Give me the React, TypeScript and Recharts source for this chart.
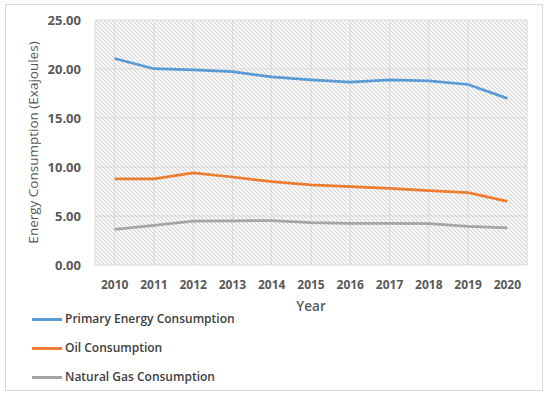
import { LineChart, Line, XAxis, YAxis, CartesianGrid, Legend } from "recharts";

const years = [2010, 2011, 2012, 2013, 2014, 2015, 2016, 2017, 2018, 2019, 2020];
const primaryEnergy = [21.07, 20.03, 19.9, 19.72, 19.2, 18.9, 18.65, 18.88, 18.8, 18.42, 17.0];
const oilConsumption = [8.78, 8.78, 9.39, 8.98, 8.5, 8.18, 7.99, 7.83, 7.58, 7.38, 6.5];
const gasConsumption = [3.64, 4.05, 4.47, 4.5, 4.53, 4.32, 4.25, 4.25, 4.22, 3.95, 3.78];
const yTicks = [0, 5, 10, 15, 20, 25];
const seriesOrder = ["primary", "oil", "gas"];

// grid lines sit on every category and halfway between them
const gridTicks = years.flatMap((y) => [y - 0.5, y]).concat(years[years.length - 1] + 0.5);

const data = years.map((year, i) => ({
  year,
  primary: primaryEnergy[i],
  oil: oilConsumption[i],
  gas: gasConsumption[i],
}));

const font = "'Open Sans', sans-serif";

const LegendList = (props: any) => {
  const items = [...(props.payload || [])].sort(
    (a: any, b: any) => seriesOrder.indexOf(a.dataKey) - seriesOrder.indexOf(b.dataKey)
  );
  return (
    <div style={{ height: 80, paddingLeft: 32, fontFamily: font }}>
      {items.map((entry: any, i: number) => (
        <div
          key={entry.value}
          style={{
            display: "flex",
            alignItems: "center",
            height: 18,
            marginTop: i === 0 ? 0 : 11,
          }}
        >
          <span style={{ display: "inline-block", width: 30, height: 3, background: entry.color }} />
          <span style={{ marginLeft: 3, fontSize: 12, fontWeight: 600, color: "#404040", lineHeight: "18px" }}>
            {entry.value}
          </span>
        </div>
      ))}
    </div>
  );
};

export default function App() {
  return (
    <div style={{ position: "absolute", left: 0, top: 0, width: 550, height: 396, background: "#fff" }}>
      <div
        style={{
          position: "absolute",
          left: 5,
          top: 4,
          width: 536,
          height: 385,
          border: "1.5px solid #d9d9d9",
        }}
      />
      <LineChart
        width={550}
        height={396}
        data={data}
        margin={{ top: 20, right: 23, bottom: 6, left: 0 }}
        style={{ position: "absolute", left: 0, top: 0 }}
      >
        <defs>
          <pattern id="hatch" patternUnits="userSpaceOnUse" width={4} height={4}>
            <rect width={4} height={4} fill="#ffffff" />
            <path d="M-1,-1 L5,5 M-1,3 L1,5 M3,-1 L5,1" stroke="#d4d4d4" strokeWidth={1.2} />
          </pattern>
        </defs>
        <CartesianGrid xAxisId="grid" stroke="#dadada" fill="url(#hatch)" fillOpacity={1} />
        <XAxis
          dataKey="year"
          type="number"
          domain={[2009.5, 2020.5]}
          ticks={years}
          interval={0}
          axisLine={false}
          tickLine={false}
          height={45}
          tickMargin={9.5}
          tick={{ fill: "#595959", fontSize: 12, fontWeight: 700, fontFamily: font }}
          label={{
            value: "Year",
            position: "insideBottom",
            offset: -1,
            fill: "#595959",
            fontSize: 13.5,
            fontWeight: 600,
            fontFamily: font,
          }}
        />
        <XAxis xAxisId="grid" dataKey="year" type="number" domain={[2009.5, 2020.5]} ticks={gridTicks} hide />
        <YAxis
          domain={[0, 25]}
          ticks={yTicks}
          interval={0}
          width={95}
          axisLine={false}
          tickLine={false}
          tickMargin={8}
          tickFormatter={(v: number) => v.toFixed(2)}
          tick={{ fill: "#595959", fontSize: 13, fontWeight: 700, fontFamily: font }}
          label={{
            value: "Energy Consumption (Exajoules)",
            angle: -90,
            position: "insideLeft",
            offset: 33,
            style: { textAnchor: "middle" },
            fill: "#595959",
            fontSize: 13.5,
            fontWeight: 500,
            fontFamily: font,
          }}
        />
        <Legend verticalAlign="bottom" content={<LegendList />} />
        <Line
          dataKey="primary"
          name="Primary Energy Consumption"
          stroke="#5b9bd5"
          strokeWidth={2.75}
          dot={false}
          isAnimationActive={false}
        />
        <Line
          dataKey="oil"
          name="Oil Consumption"
          stroke="#ed7d31"
          strokeWidth={2.75}
          dot={false}
          isAnimationActive={false}
        />
        <Line
          dataKey="gas"
          name="Natural Gas Consumption"
          stroke="#a5a5a5"
          strokeWidth={2.75}
          dot={false}
          isAnimationActive={false}
        />
      </LineChart>
    </div>
  );
}
